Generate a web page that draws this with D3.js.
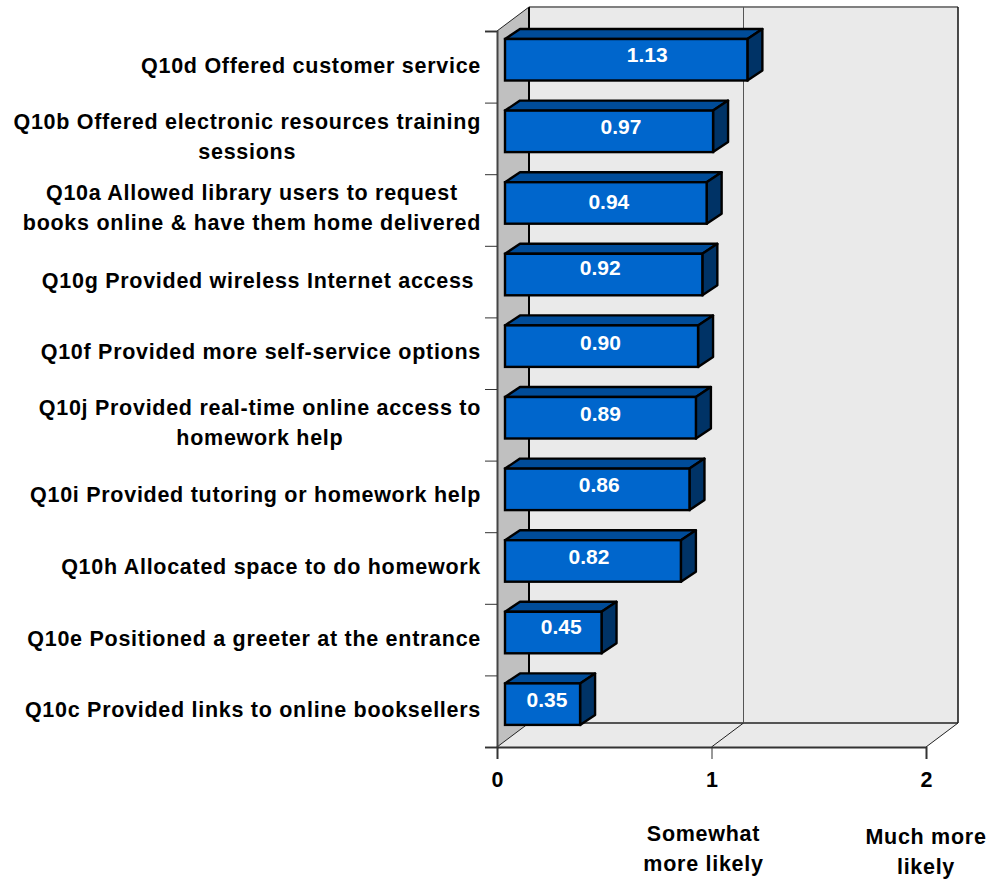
<!DOCTYPE html>
<html>
<head>
<meta charset="utf-8">
<script src="https://cdn.jsdelivr.net/npm/d3@7/dist/d3.min.js"></script>
<style>
html,body{margin:0;padding:0;background:#fff;}
svg{display:block;}
text{font-family:"Liberation Sans",Arial,sans-serif;font-weight:bold;white-space:pre;}
</style>
</head>
<body>
<svg id="chart" width="998" height="879"></svg>
<script>
// ---- data ----
const categories = ["Q10d","Q10b","Q10a","Q10g","Q10f","Q10j","Q10i","Q10h","Q10e","Q10c"];
const categoryLabels = [
  ["Q10d Offered customer service"],
  ["Q10b Offered electronic resources training","sessions"],
  ["Q10a Allowed library users to request","books online & have them home delivered"],
  ["Q10g Provided wireless Internet access "],
  ["Q10f Provided more self-service options"],
  ["Q10j Provided real-time online access to","homework help"],
  ["Q10i Provided tutoring or homework help"],
  ["Q10h Allocated space to do homework"],
  ["Q10e Positioned a greeter at the entrance"],
  ["Q10c Provided links to online booksellers"]
];
const values = [1.13,0.97,0.94,0.92,0.90,0.89,0.86,0.82,0.45,0.35];
const valueTicks = [0,1,2];
const scaleNotes = [
  {at:1, lines:["Somewhat","more likely"]},
  {at:2, lines:["Much more","likely"]}
];

// ---- layout ----
const svg = d3.select("#chart");
const depth = {x:32, y:-24};
const barDepth = {x:15, y:-10};
const floorY = 747, topY = 31;
const barInset = {x:8, y:8};
const barH = 41.5;
const x = d3.scaleLinear().domain([0,2]).range([497,926]);
const y = d3.scaleBand().domain(categories).range([topY,floorY]);
const edge = d3.scaleLinear().domain([0,categories.length]).range([topY,floorY]);
const labelNudge = [21,12,3,-3.5,-1,0,2,-4,8,4.5];   // manual placement of value labels
const labelLift  = [-5,-4,-1,-6.5,-3,-4,-4,-4,-6,-4];
const labelRowNudge = [0,0,-1.5,0,0,-1,0,0,0,0];
const poly = pts => d3.line()(pts)+"Z";
const seg = (g,a,b,stroke,w) => g.append("path").attr("d",d3.line()([a,b])).attr("fill","none").attr("stroke",stroke).attr("stroke-width",w);

// ---- 3D walls ----
const walls = svg.append("g");
const X0=x(0), X2=x(2);
walls.append("path").attr("d",poly([[X0+depth.x,topY+depth.y],[X2+depth.x,topY+depth.y],[X2+depth.x,floorY+depth.y],[X0+depth.x,floorY+depth.y]])).attr("fill","#eaeaea");
walls.append("path").attr("d",poly([[X0,floorY],[X2,floorY],[X2+depth.x,floorY+depth.y],[X0+depth.x,floorY+depth.y]])).attr("fill","#eaeaea");
walls.append("path").attr("d",poly([[X0,topY],[X0+depth.x,topY+depth.y],[X0+depth.x,floorY+depth.y],[X0,floorY]])).attr("fill","#c0c0c0");
seg(walls,[X0+depth.x,topY+depth.y],[X2+depth.x,topY+depth.y],"#808080",2);
seg(walls,[X2+depth.x,topY+depth.y],[X2+depth.x,floorY+depth.y],"#111",1.5);
seg(walls,[X0+depth.x,floorY+depth.y],[X2+depth.x,floorY+depth.y],"#222",1.5);
seg(walls,[X0+depth.x,topY+depth.y],[X0+depth.x,floorY+depth.y],"#000",2);
seg(walls,[X0,topY],[X0+depth.x,topY+depth.y],"#222",1);
seg(walls,[X0,floorY],[X0+depth.x,floorY+depth.y],"#222",1);
seg(walls,[X2,floorY],[X2+depth.x,floorY+depth.y],"#222",1);
// grid line at 1
seg(walls,[x(1)+depth.x,topY+depth.y],[x(1)+depth.x,floorY+depth.y],"#555",1);
seg(walls,[x(1),floorY],[x(1)+depth.x,floorY+depth.y],"#222",1);

// ---- axes ----
const axL = svg.append("g").attr("transform",`translate(${X0},0)`)
  .call(d3.axisLeft(edge).ticks(categories.length).tickSize(12).tickFormat(""));
const axB = svg.append("g").attr("transform",`translate(0,${floorY})`)
  .call(d3.axisBottom(x).tickValues(valueTicks).tickSize(12).tickPadding(13).tickFormat(d3.format("d")));
axL.select(".domain").attr("stroke","#444").attr("stroke-width",2);
axB.select(".domain").attr("stroke","#333").attr("stroke-width",2);
axL.selectAll(".tick line").attr("stroke","#333");
axB.selectAll(".tick line").attr("stroke","#333");
axL.selectAll(".tick text").remove();
axB.selectAll(".tick text").attr("font-size",21.5).attr("font-family",'"Liberation Sans",Arial,sans-serif').attr("fill","#000");

// ---- bars ----
const rows = categories.map((c,i)=>({c,i,v:values[i],lines:categoryLabels[i]}));
const bars = svg.append("g").selectAll("g").data(rows).join("g");
const bx0 = X0+barInset.x;
const bx1 = d => bx0 + x(d.v)-x(0);
const by0 = d => y(d.c)+barInset.y;
bars.append("path").attr("fill","#004c99").attr("stroke","#000").attr("stroke-width",2.4).attr("stroke-linejoin","round")
  .attr("d",d=>poly([[bx0,by0(d)],[bx1(d),by0(d)],[bx1(d)+barDepth.x,by0(d)+barDepth.y],[bx0+barDepth.x,by0(d)+barDepth.y]]));
bars.append("path").attr("fill","#003366").attr("stroke","#000").attr("stroke-width",2.4).attr("stroke-linejoin","round")
  .attr("d",d=>poly([[bx1(d),by0(d)],[bx1(d)+barDepth.x,by0(d)+barDepth.y],[bx1(d)+barDepth.x,by0(d)+barDepth.y+barH],[bx1(d),by0(d)+barH]]));
bars.append("rect").attr("fill","#0066cc").attr("stroke","#000").attr("stroke-width",2.4)
  .attr("x",bx0).attr("y",by0).attr("width",d=>x(d.v)-x(0)).attr("height",barH);
bars.append("text").attr("fill","#fff").attr("font-size",21).attr("text-anchor","middle")
  .attr("x",d=>bx0+(x(d.v)-x(0))/2+labelNudge[d.i])
  .attr("y",d=>by0(d)+barH/2+7+labelLift[d.i])
  .text(d=>d.v.toFixed(2));

// ---- category labels ----
const labelRight = 481, lineGap = 30, catFont = 21.5, catSpacing = 0.72;
const lab = svg.append("g").selectAll("g").data(rows).join("g");
lab.each(function(d){
  const g = d3.select(this);
  const cy = y(d.c)+y.bandwidth()/2-1+labelRowNudge[d.i];
  const ts = d.lines.map((t,k)=>g.append("text").attr("font-size",catFont).attr("letter-spacing",catSpacing).attr("fill","#000").attr("text-anchor","middle").text(t));
  const w = d3.max(ts,t=>t.node().getComputedTextLength());
  ts.forEach((t,k)=>t.attr("x",labelRight-w/2).attr("y",cy+7+(k-(ts.length-1)/2)*lineGap));
});

// ---- scale notes ----
const noteBase = {1:841,2:844};
const noteNudge = {1:-8,2:0};
scaleNotes.forEach(n=>{
  n.lines.forEach((t,k)=>svg.append("text").attr("font-size",catFont).attr("letter-spacing",catSpacing).attr("text-anchor","middle").attr("fill","#000")
    .attr("x",x(n.at)+noteNudge[n.at]).attr("y",noteBase[n.at]+k*lineGap).text(t));
});
</script>
</body>
</html>
